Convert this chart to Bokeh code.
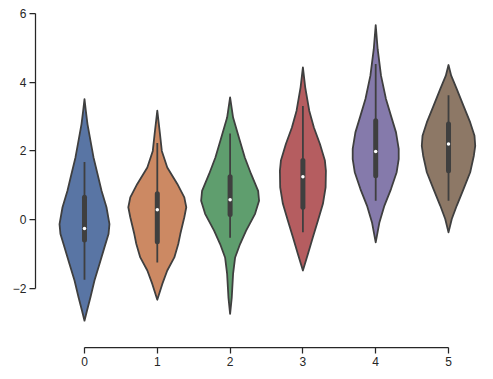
from bokeh.plotting import figure
from bokeh.models import FixedTicker, ColumnDataSource, Spacer
from bokeh.layouts import row
from bokeh.embed import file_html
from bokeh.resources import INLINE

categories = [0, 1, 2, 3, 4, 5]
colors = ["#5975A4", "#CC8963", "#5F9E6E", "#B55D60", "#857AAB", "#8D7866"]

# violin density profiles: y values and half-widths (category units)
v0_y = [3.51, 3.17, 2.78, 2.30, 1.81, 1.33, 0.84, 0.36, -0.13, -0.42, -0.80, -1.29, -1.77, -2.26, -2.65, -2.94]
v0_w = [0, .018, .041, .082, .124, .179, .234, .302, .343, .330, .275, .206, .137, .082, .034, 0]
v1_y = [3.17, 2.49, 2.0, 1.52, 1.04, 0.65, 0.36, 0.07, -0.42, -0.71, -1.10, -1.48, -1.87, -2.33]
v1_w = [0, .037, .062, .137, .275, .371, .398, .371, .316, .288, .234, .137, .069, 0]
v2_y = [3.56, 2.97, 2.30, 1.81, 1.33, 0.84, 0.55, 0.17, -0.32, -0.71, -1.10, -1.58, -2.26, -2.74]
v2_w = [0, .041, .133, .202, .288, .385, .398, .343, .220, .137, .069, .041, .023, 0]
v3_y = [4.43, 3.85, 3.17, 2.68, 2.20, 1.72, 1.42, 0.94, 0.46, -0.03, -0.51, -1.0, -1.48]
v3_w = [0, .032, .087, .151, .234, .302, .316, .312, .275, .206, .137, .069, 0]
v4_y = [5.66, 4.96, 4.19, 3.51, 3.02, 2.54, 2.06, 1.76, 1.38, 0.89, 0.41, -0.08, -0.66]
v4_w = [0, .027, .073, .141, .210, .279, .316, .316, .288, .210, .120, .051, 0]
v5_y = [4.50, 4.19, 3.80, 3.31, 2.83, 2.44, 2.15, 1.86, 1.38, 0.89, 0.41, 0.02, -0.37]
v5_w = [0, .037, .114, .206, .298, .357, .367, .348, .298, .206, .114, .045, 0]

# box stats
whisk_lo = [-1.75, -1.25, -0.53, -0.37, 0.55, 0.55]
q1 = [-0.59, -0.64, 0.15, 0.36, 1.28, 1.42]
median = [-0.26, 0.29, 0.58, 1.25, 1.98, 2.20]
q3 = [0.65, 0.75, 1.25, 1.72, 2.88, 2.78]
whisk_hi = [1.68, 2.23, 2.51, 3.31, 4.53, 3.62]

y_ticks = [-2, 0, 2, 4, 6]

profiles = [(v0_y, v0_w), (v1_y, v1_w), (v2_y, v2_w), (v3_y, v3_w), (v4_y, v4_w), (v5_y, v5_w)]

GRAY = "#3f3f3f"
AX = "#262626"

p = figure(width=484, height=379, output_backend="svg", toolbar_location=None,
           x_range=(-0.673, 5.618), y_range=(-3.721, 6.145),
           min_border_left=0, min_border_right=0, min_border_top=8, min_border_bottom=32)
p.outline_line_color = None
p.grid.visible = False
p.background_fill_color = "white"
p.border_fill_color = "white"

for c, (ys, ws), col in zip(categories, profiles, colors):
    xs = [c + w for w in ws] + [c - w for w in reversed(ws)]
    yy = list(ys) + list(reversed(ys))
    p.patch(xs, yy, fill_color=col, line_color=GRAY, line_width=1.8, line_join="round")

src = ColumnDataSource(dict(x=categories, lo=whisk_lo, q1=q1, med=median, q3=q3, hi=whisk_hi))
p.segment(x0="x", y0="lo", x1="x", y1="hi", source=src, line_color=GRAY, line_width=1.8)
p.segment(x0="x", y0="q1", x1="x", y1="q3", source=src, line_color=GRAY, line_width=5, line_cap="round")
p.scatter(x="x", y="med", source=src, size=3.5, fill_color="white", line_color=None)

for ax in (p.xaxis[0], p.yaxis[0]):
    ax.axis_line_color = AX
    ax.axis_line_width = 1.25
    ax.major_tick_line_color = AX
    ax.major_tick_line_width = 1.25
    ax.major_tick_out = 6
    ax.major_tick_in = 0
    ax.minor_tick_line_color = None
    ax.major_label_text_font = "Liberation Sans"
    ax.major_label_text_font_size = "12px"
    ax.major_label_text_color = AX

p.xaxis[0].ticker = FixedTicker(ticks=categories)
p.xaxis[0].bounds = (0, 5)
p.xaxis[0].major_label_standoff = 3
p.yaxis[0].ticker = FixedTicker(ticks=y_ticks)
p.yaxis[0].bounds = (-2, 6)
p.yaxis[0].major_label_standoff = 3
p.yaxis[0].major_label_overrides = {t: (str(t).replace("-", "\u2212")) for t in y_ticks}

layout = row(Spacer(width=9, height=379), p)
open("out.html", "w").write(file_html(layout, INLINE))
